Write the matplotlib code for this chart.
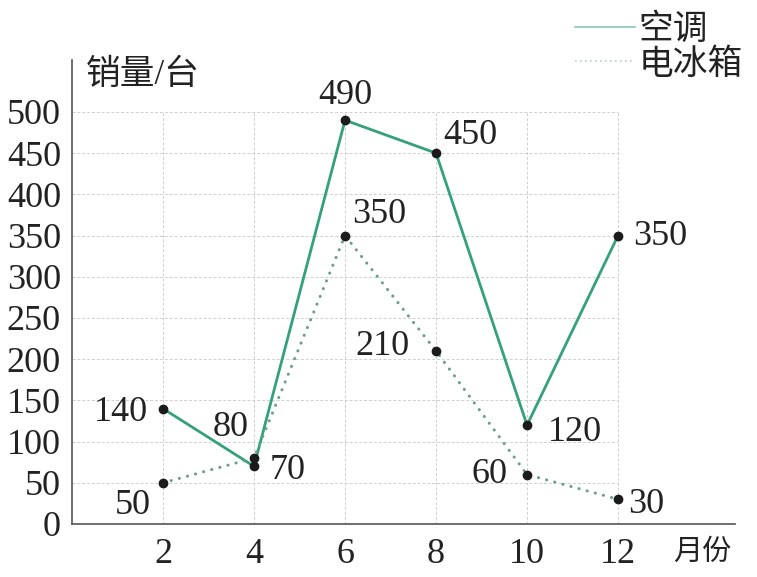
import matplotlib.pyplot as plt
from matplotlib.lines import Line2D

plt.rcParams['font.family'] = ['Liberation Serif', 'Noto Sans CJK SC']

months  = [2, 4, 6, 8, 10, 12]
aircon  = [140, 70, 490, 450, 120, 350]
fridge  = [50, 80, 350, 210, 60, 30]
y_ticks = [0, 50, 100, 150, 200, 250, 300, 350, 400, 450, 500]

# label offsets in points (dx, dy, ha, va) -- tuned by eye
ac_offsets = [(-11, -3, 'right', 'center'), (11, -3, 'left', 'center'),
              (0, 6, 'center', 'bottom'), (5, 1, 'left', 'bottom'),
              (15, -5, 'left', 'center'), (11, -1, 'left', 'center')]
fr_offsets = [(-9, -16, 'right', 'center'), (-4, 10, 'right', 'bottom'),
              (5, 3, 'left', 'bottom'), (-19, 3, 'right', 'center'),
              (-14, 0, 'right', 'center'), (7, -4, 'left', 'center')]

GREEN = '#35a07e'
DOTS  = '#6a9e8e'

fig = plt.figure(figsize=(7.57, 5.77), dpi=100)
ax = fig.add_axes([72/757, 53/577, 663/757, 464/577])
ax.set_xlim(0, 14.57)
ax.set_ylim(0, 563)

# grid only inside the data region
grid_kw = dict(color='#cfcfcf', linestyle=(0, (3, 2)), linewidth=0.7, zorder=0)
ax.hlines(y_ticks[1:], 0, months[-1], **grid_kw)
ax.vlines(months, 0, y_ticks[-1], **grid_kw)

ax.plot(months, aircon, color=GREEN, lw=2, zorder=3)
ax.plot(months, fridge, color=DOTS, lw=2.2, linestyle=(0, (0.05, 2.7)),
        dash_capstyle='round', zorder=3)
ax.plot(months, aircon, 'o', color='#1b1b1b', ms=6, zorder=4)
ax.plot(months, fridge, 'o', color='#1b1b1b', ms=6, zorder=4)

for x, y, (dx, dy, ha, va) in zip(months, aircon, ac_offsets):
    ax.annotate(str(y), (x, y), xytext=(dx, dy), textcoords='offset points',
                ha=ha, va=va, fontsize=26, color='#222222')
for x, y, (dx, dy, ha, va) in zip(months, fridge, fr_offsets):
    ax.annotate(str(y), (x, y), xytext=(dx, dy), textcoords='offset points',
                ha=ha, va=va, fontsize=26, color='#222222')

ax.set_xticks(months)
ax.set_yticks(y_ticks)
ax.tick_params(length=0, labelsize=26, colors='#222222')
ax.tick_params(axis='y', pad=8)
ax.tick_params(axis='x', pad=10)

for s in ['top', 'right']:
    ax.spines[s].set_visible(False)
for s in ['left', 'bottom']:
    ax.spines[s].set_color('#555555')
    ax.spines[s].set_linewidth(1.2)

ax.text(0.02, 0.966, '销量/台', transform=ax.transAxes, ha='left', va='center',
        fontsize=25, color='#222222', fontweight='light')
ax.text(0.906, -0.0625, '月份', transform=ax.transAxes, ha='left', va='center',
        fontsize=21, color='#222222', fontweight='light')

handles = [Line2D([], [], color='#8cc8b4', lw=1.2),
           Line2D([], [], color='#b8cfc7', lw=1.2, linestyle=(0, (1, 2)))]
fig.legend(handles, ['空调', '电冰箱'], loc='upper right',
           bbox_to_anchor=(1.0, 1.0), frameon=False,
           prop={'size': 25, 'weight': 'light'},
           handlelength=1.75, handletextpad=0.1, labelspacing=0.05,
           borderaxespad=0.0, labelcolor='#222222')

fig.savefig('out.png', dpi=100)
